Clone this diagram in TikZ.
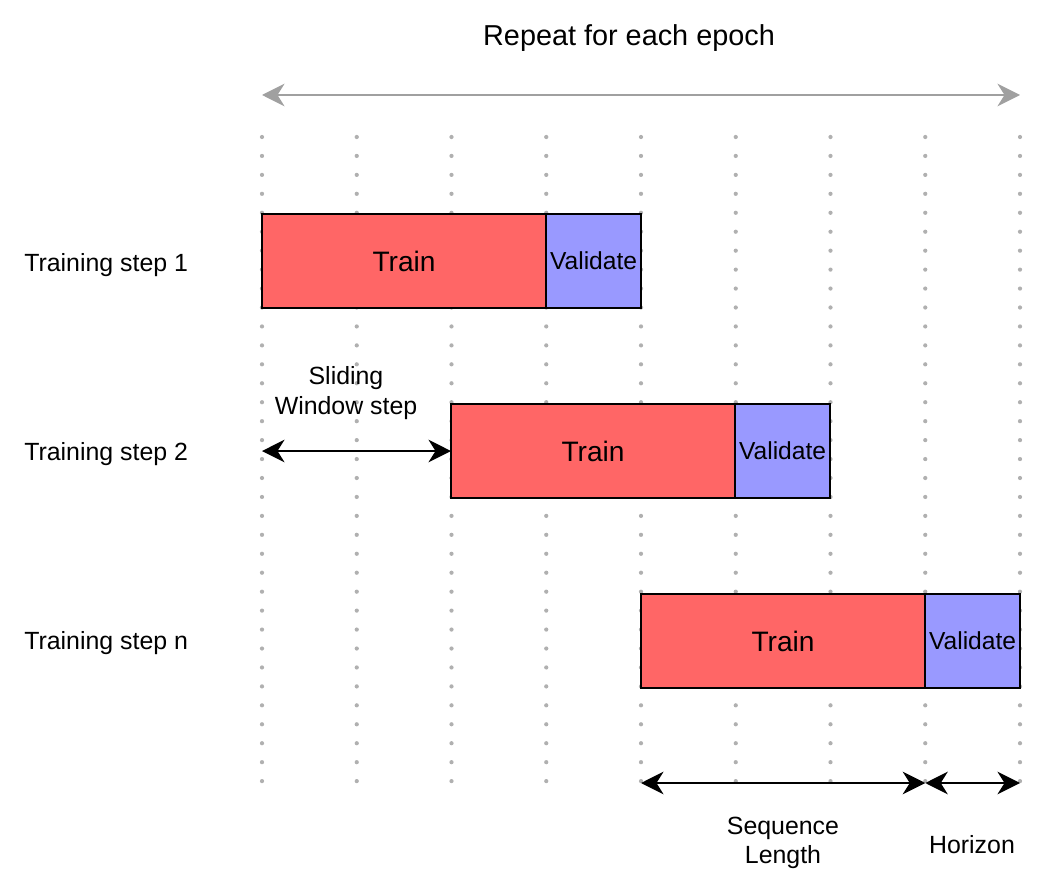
\documentclass[tikz,border=0pt]{standalone}
\usepackage{fontspec}
\setmainfont{Liberation Sans}
\usepackage[x11names, rgb]{xcolor}
\usepackage{tikz}
\usetikzlibrary{arrows.meta,positioning}
\definecolor{trainred}{HTML}{FF6666}
\definecolor{validblue}{HTML}{9999FF}
\definecolor{dotgray}{HTML}{B0B0B0}
\definecolor{arrowgray}{HTML}{A0A0A0}

\begin{document}
\begin{tikzpicture}[x=0.025cm,y=-0.025cm]
\tikzset{
	train node/.style = {draw, line width=1pt, outer sep=0, inner sep=0, fill=trainred, minimum width=7.1cm, minimum height=2.35cm, font=\fontsize{20}{23}\selectfont},
	validate node/.style = {draw, line width=1pt, outer sep=0, inner sep=0, fill=validblue, minimum width=2.375cm, minimum height=2.35cm, font=\fontsize{17.5}{21}\selectfont},
	step label/.style = {anchor=west, inner sep=0, font=\fontsize{17.7}{21}\selectfont},
	dim label/.style = {align=center, inner sep=0, font=\fontsize{17.7}{21}\selectfont},
	grid line/.style = {dotgray, line width=3pt, line cap=round, dash pattern=on 0pt off 0.4735cm},
	span arrow/.style = {line width=1.4pt, {Stealth[length=16pt,width=16pt,inset=5pt]}-{Stealth[length=16pt,width=16pt,inset=5pt]}},
}
\useasboundingbox (0,0) rectangle (1048,880);

\foreach \i in {0,...,8}{
	\coordinate (top\i) at (262+94.75*\i,137);
	\coordinate (bot\i) at (262+94.75*\i,783);
	\draw [grid line] (top\i) -- (bot\i);
}

\coordinate (e0) at (262,95);
\coordinate (e1) at (1020,95);
\draw [span arrow, arrowgray] (e0) -- (e1);
\node (epoch) [dim label, font=\fontsize{20.5}{24}\selectfont] at (629,38) {Repeat for each epoch};

\node (t1) [train node, anchor=north west] at (262,214) {Train};
\node (v1) [validate node, right=0pt of t1] {Validate};
\node (t2) [train node, anchor=north west] at (451,404) {Train};
\node (v2) [validate node, right=0pt of t2] {Validate};
\node (t3) [train node, anchor=north west] at (641,594) {Train};
\node (v3) [validate node, right=0pt of t3] {Validate};

\node (l1) [step label] at (24,265) {Training step 1};
\node (l2) [step label] at (24,454) {Training step 2};
\node (l3) [step label] at (24,643) {Training step n};

\coordinate (s0) at (t2.west -| top0);
\draw [span arrow] (s0) -- (t2.west);
\node (slide) [dim label] at (346,393) {Sliding\\Window step};

\draw [span arrow] (bot4) -- (bot7);
\draw [span arrow] (bot7) -- (bot8);
\node (seq) [dim label] at (783,843) {Sequence\\Length};
\node (hor) [dim label] at (972,845) {Horizon};

\end{tikzpicture}
\end{document}
